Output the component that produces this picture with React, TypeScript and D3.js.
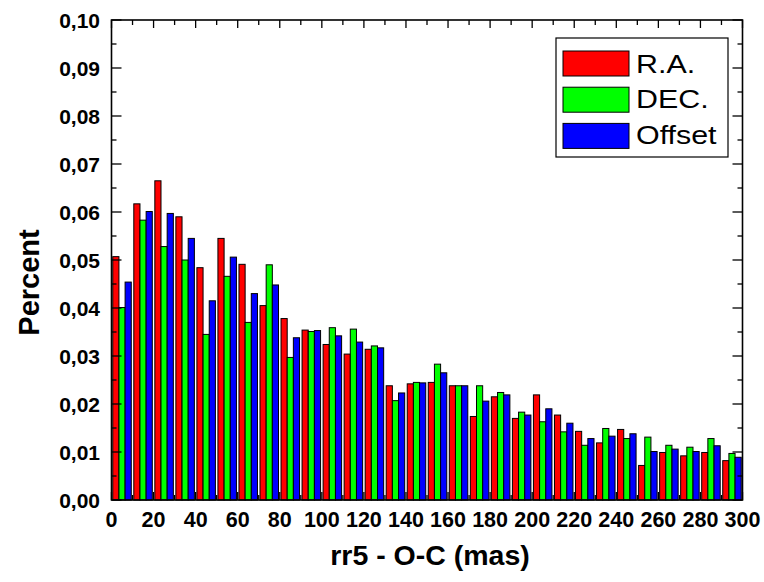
import React from "react";
import * as d3 from "d3";

// Histogram of O-C residuals, bin width 10 mas
const binStarts = d3.range(0, 300, 10);
const raValues = [0.0507, 0.0617, 0.0665, 0.059, 0.0484, 0.0545, 0.0491, 0.0405, 0.0378, 0.0354, 0.0324, 0.0304, 0.0314, 0.0238, 0.0242, 0.0245, 0.0238, 0.0174, 0.0215, 0.017, 0.0219, 0.0177, 0.0143, 0.0119, 0.0147, 0.0072, 0.0099, 0.0092, 0.0099, 0.0082];
const decValues = [0.0401, 0.0583, 0.0528, 0.05, 0.0345, 0.0466, 0.037, 0.049, 0.0297, 0.0351, 0.0359, 0.0356, 0.0321, 0.0207, 0.0245, 0.0283, 0.0238, 0.0238, 0.0224, 0.0183, 0.0163, 0.0142, 0.0114, 0.0149, 0.0128, 0.0131, 0.0114, 0.011, 0.0128, 0.0097];
const offsetValues = [0.0454, 0.0601, 0.0597, 0.0545, 0.0415, 0.0506, 0.043, 0.0448, 0.0338, 0.0353, 0.0342, 0.0329, 0.0317, 0.0223, 0.0244, 0.0265, 0.0238, 0.0206, 0.0219, 0.0177, 0.019, 0.016, 0.0128, 0.0133, 0.0138, 0.0101, 0.0106, 0.0101, 0.0113, 0.0089];
const seriesNames = ["R.A.", "DEC.", "Offset"];
const seriesColors = ["#ff0000", "#00ff00", "#0000ff"];
const xTickValues = d3.range(0, 301, 20);
const yTickValues = d3.range(0, 0.1001, 0.01);

const W = 764;
const H = 582;
const left = 111.5;
const right = 742.5;
const top = 20;
const bottom = 500;

export default function App() {
  const x = d3.scaleLinear().domain([0, 300]).range([left, right]);
  const y = d3.scaleLinear().domain([0, 0.1]).range([bottom, top]);
  const series = [raValues, decValues, offsetValues];
  const binW = x(10) - x(0);
  const groupW = binW * 0.88;
  const barW = groupW / 3;
  const font = "'Liberation Sans', Arial, sans-serif";

  const minorX = d3.range(0, 301, 10);
  const minorY = d3.range(0, 0.1001, 0.005);

  return (
    <svg
      width={W}
      height={H}
      style={{ position: "absolute", left: 0, top: 0, background: "#fff" }}
      fontFamily={font}
    >
      <rect x={0} y={0} width={W} height={H} fill="#fff" />
      {/* bottom/top ticks (behind bars) */}
      {minorX.map((v, i) => {
        const major = v % 20 === 0;
        const len = major ? 8 : 5;
        return (
          <g key={"xt" + i} stroke="#000" strokeWidth={1.3}>
            <line x1={x(v)} x2={x(v)} y1={bottom} y2={bottom - len} />
            <line x1={x(v)} x2={x(v)} y1={top} y2={top + len} />
          </g>
        );
      })}
      {/* bars */}
      {binStarts.map((b, i) => {
        const cx = x(b + 5);
        return series.map((vals, s) => (
          <rect
            key={`b${i}-${s}`}
            x={cx - groupW / 2 + s * barW}
            y={y(vals[i])}
            width={barW}
            height={y(0) - y(vals[i])}
            fill={seriesColors[s]}
            stroke="#000"
            strokeWidth={1}
          />
        ));
      })}
      {/* left/right ticks */}
      {minorY.map((v, i) => {
        const major = i % 2 === 0;
        const len = major ? 10 : 5;
        return (
          <g key={"yt" + i} stroke="#000" strokeWidth={1.3}>
            <line x1={left} x2={left + len} y1={y(v)} y2={y(v)} />
            <line x1={right} x2={right - len} y1={y(v)} y2={y(v)} />
          </g>
        );
      })}
      {/* frame */}
      <rect
        x={left}
        y={top}
        width={right - left}
        height={bottom - top}
        fill="none"
        stroke="#000"
        strokeWidth={1.6}
      />
      {/* y tick labels */}
      {yTickValues.map((v, i) => (
        <text
          key={"yl" + i}
          x={100}
          y={y(v)}
          dy="0.36em"
          textAnchor="end"
          fontSize={21}
          fontWeight="bold"
        >
          {v.toFixed(2).replace(".", ",")}
        </text>
      ))}
      {/* x tick labels */}
      {xTickValues.map((v, i) => (
        <text
          key={"xl" + i}
          x={x(v)}
          y={527}
          textAnchor="middle"
          fontSize={21.5}
          fontWeight="bold"
        >
          {v}
        </text>
      ))}
      {/* axis titles */}
      <text
        x={430}
        y={565}
        textAnchor="middle"
        fontSize={28.5}
        fontWeight="bold"
      >
        rr5 - O-C (mas)
      </text>
      <text
        transform="translate(38.5,282.5) rotate(-90)"
        textAnchor="middle"
        fontSize={29}
        fontWeight="bold"
      >
        Percent
      </text>
      {/* legend */}
      <rect x={556} y={38} width={172} height={119} fill="#fff" stroke="#000" strokeWidth={1.2} />
      {seriesNames.map((name, s) => (
        <g key={"lg" + s}>
          <rect
            x={563}
            y={51 + s * 36.2}
            width={66}
            height={25}
            fill={seriesColors[s]}
            stroke="#000"
            strokeWidth={1}
          />
          <text
            transform={`translate(636,${72.5 + s * 35.8}) scale(1.17,1)`}
            fontSize={26}
          >
            {name}
          </text>
        </g>
      ))}
    </svg>
  );
}
